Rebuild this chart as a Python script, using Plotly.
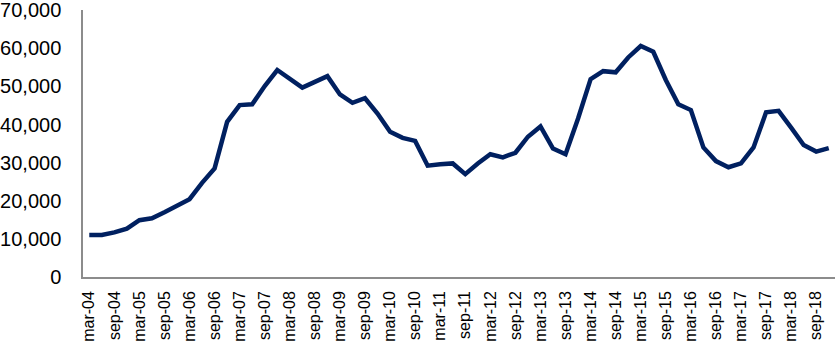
import plotly.graph_objects as go

months = ["mar", "jun", "sep", "dec"]
years = ["04", "05", "06", "07", "08", "09", "10", "11", "12", "13", "14", "15", "16", "17", "18"]
categories = [f"{m}-{y}" for y in years for m in months]

values = [
    11000, 11000, 11700, 12700, 14900, 15400, 17000, 18700, 20400, 24700,
    28500, 40700, 45100, 45300, 50100, 54300, 51900, 49700, 51200, 52700,
    47900, 45700, 46900, 42900, 38100, 36500, 35700, 29200, 29600, 29800,
    27000, 29800, 32200, 31400, 32600, 36800, 39500, 33700, 32200, 41600,
    51900, 54000, 53700, 57600, 60600, 59100, 51700, 45300, 43800, 34000,
    30400, 28800, 29800, 34000, 43200, 43600, 39200, 34600, 32900, 33800,
]

tick_labels = [c for c in categories if c.startswith("mar") or c.startswith("sep")]
y_ticks = [0, 10000, 20000, 30000, 40000, 50000, 60000, 70000]

fig = go.Figure()
fig.add_trace(go.Scatter(
    x=categories, y=values, mode="lines",
    line=dict(color="#002060", width=4.5),
    hoverinfo="skip",
))

fig.update_layout(
    width=839, height=342,
    margin=dict(l=83, r=4, t=10, b=65),
    paper_bgcolor="white", plot_bgcolor="white",
    showlegend=False,
    font=dict(family="Liberation Sans, Arial, sans-serif", color="#000000"),
)
fig.update_xaxes(
    type="category", automargin=False,
    range=[-0.5, 59.5],
    tickmode="array", tickvals=tick_labels, ticktext=tick_labels,
    tickangle=-90, tickfont=dict(size=16),
    showline=True, linecolor="#8c8c8c", linewidth=1.5,
    showgrid=False, ticks="", ticklabelstandoff=6,
    ticklabeloverflow="allow",
)
fig.update_yaxes(
    automargin=False,
    range=[0, 70050], tickmode="array", tickvals=y_ticks,
    ticktext=[f"{v:,}" for v in y_ticks],
    tickfont=dict(size=20),
    showline=True, linecolor="#8c8c8c", linewidth=1.5,
    showgrid=False, zeroline=False, ticks="", ticklabelstandoff=16,
    ticklabeloverflow="allow",
)

fig.write_html("out.html", config={"displayModeBar": False},
               post_script="document.body.style.margin='0';")
